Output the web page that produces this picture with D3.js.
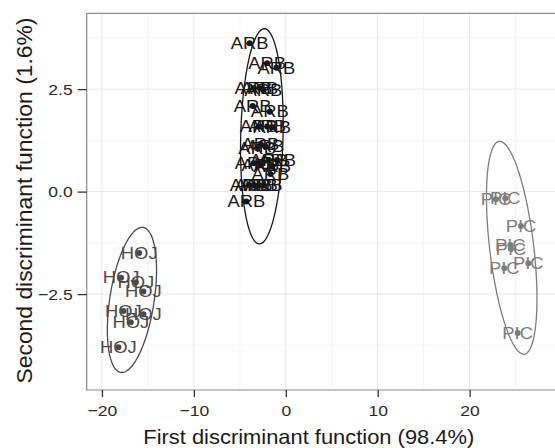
<!DOCTYPE html>
<html>
<head>
<meta charset="utf-8">
<script src="https://cdn.jsdelivr.net/npm/d3@7"></script>
<style>
  html, body { margin: 0; padding: 0; background: #fff; }
  svg { display: block; font-family: "Liberation Sans", Arial, Helvetica, sans-serif; }
</style>
</head>
<body>
<svg id="chart" width="555" height="448"></svg>
<script>
// ---- data ----
const groups = ["ARB", "HOJ", "PIC"];
const groupColors = ["#161616", "#4a4a4a", "#7d7d7d"];

const arbX = [-3.93, -2.03, -1.01, -3.52, -2.87, -2.43, -3.60, -1.74, -2.94, -2.03, -1.48, -2.76, -2.21, -3.12, -3.49, -2.76, -1.85, -0.94, -1.48, -1.67, -4.03, -3.49, -2.94, -2.40, -4.29];
const arbY = [3.62, 3.13, 3.02, 2.53, 2.53, 2.48, 2.09, 1.95, 1.59, 1.59, 1.57, 1.16, 1.10, 1.06, 0.69, 0.65, 0.77, 0.77, 0.61, 0.43, 0.16, 0.16, 0.16, 0.16, -0.24];

const hojX = [-15.95, -17.92, -16.31, -15.49, -17.67, -15.49, -16.86, -18.21];
const hojY = [-1.50, -2.10, -2.21, -2.44, -2.91, -2.99, -3.19, -3.80];

const picX = [22.87, 23.88, 25.59, 24.43, 24.50, 23.77, 26.39, 25.23];
const picY = [-0.185, -0.16, -0.84, -1.30, -1.40, -1.87, -1.75, -3.45];

const xTicks = [-20, -10, 0, 10, 20];
const xMinor = [-15, -5, 5, 15, 25];
const yTicks = [-2.5, 0.0, 2.5];
const yMinor = [-3.75, -1.25, 1.25, 3.75];
const xDomain = [-21.66, 29.4];
const yDomain = [-4.84, 4.35];
const ellipseLevel = 0.95;

const xTitle = "First discriminant function (98.4%)";
const yTitle = "Second discriminant function (1.6%)";

// ---- layout ----
const svg = d3.select("#chart");
const panel = { left: 86.7, top: 13.3, right: 556, bottom: 390 };
const STRETCH = 1.13; // horizontal stretch of the reference's type

function stretch(sel, k) {
  sel.each(function () {
    const w = this.getComputedTextLength();
    d3.select(this).attr("textLength", w * k).attr("lengthAdjust", "spacingAndGlyphs");
  });
}

const x = d3.scaleLinear().domain(xDomain).range([panel.left, panel.right]);
const y = d3.scaleLinear().domain(yDomain).range([panel.bottom, panel.top]);

const defs = svg.append("defs");
defs.append("clipPath").attr("id", "clip").append("rect")
  .attr("x", panel.left).attr("y", panel.top)
  .attr("width", panel.right - panel.left).attr("height", panel.bottom - panel.top);

// grid
const grid = svg.append("g");
grid.selectAll(".xmin").data(xMinor).join("line")
  .attr("x1", d => x(d)).attr("x2", d => x(d)).attr("y1", panel.top).attr("y2", panel.bottom)
  .attr("stroke", "#f3f3f3").attr("stroke-width", 0.8);
grid.selectAll(".ymin").data(yMinor).join("line")
  .attr("y1", d => y(d)).attr("y2", d => y(d)).attr("x1", panel.left).attr("x2", panel.right)
  .attr("stroke", "#f3f3f3").attr("stroke-width", 0.8);
grid.selectAll(".xmaj").data(xTicks).join("line")
  .attr("x1", d => x(d)).attr("x2", d => x(d)).attr("y1", panel.top).attr("y2", panel.bottom)
  .attr("stroke", "#e8e8e8").attr("stroke-width", 1);
grid.selectAll(".ymaj").data(yTicks).join("line")
  .attr("y1", d => y(d)).attr("y2", d => y(d)).attr("x1", panel.left).attr("x2", panel.right)
  .attr("stroke", "#e8e8e8").attr("stroke-width", 1);

// ---- ellipses (computed from the data: normal, chi-square radius) ----
function ellipsePath(xs, ys) {
  const n = xs.length;
  const mx = d3.mean(xs), my = d3.mean(ys);
  let sxx = 0, syy = 0, sxy = 0;
  for (let i = 0; i < n; i++) {
    sxx += (xs[i] - mx) ** 2; syy += (ys[i] - my) ** 2; sxy += (xs[i] - mx) * (ys[i] - my);
  }
  sxx /= (n - 1); syy /= (n - 1); sxy /= (n - 1);
  const r = Math.sqrt(-2 * Math.log(1 - ellipseLevel)); // sqrt(qchisq(level, 2))
  const a = Math.sqrt(sxx), b = sxy / a, c = Math.sqrt(syy - b * b);
  const pts = d3.range(0, 121).map(i => {
    const t = 2 * Math.PI * i / 120;
    const u = Math.cos(t), v = Math.sin(t);
    return [mx + r * (u * a), my + r * (u * b + v * c)];
  });
  return d3.line().x(d => x(d[0])).y(d => y(d[1]))(pts);
}

const datasets = [[arbX, arbY], [hojX, hojY], [picX, picY]];
const plot = svg.append("g").attr("clip-path", "url(#clip)");

datasets.forEach(([xs, ys], gi) => {
  plot.append("path").attr("d", ellipsePath(xs, ys))
    .attr("fill", "none").attr("stroke", groupColors[gi]).attr("stroke-width", 1.3);
});

datasets.forEach(([xs, ys], gi) => {
  const g = plot.append("g");
  const pts = xs.map((v, i) => [v, ys[i]]);
  g.selectAll("text").data(pts).join("text")
    .attr("x", d => x(d[0])).attr("y", d => y(d[1]))
    .attr("text-anchor", "middle").attr("dy", "0.36em")
    .attr("font-size", 16).attr("fill", groupColors[gi])
    .text(groups[gi])
    .call(stretch, 1.15);
  g.selectAll("circle").data(pts).join("circle")
    .attr("cx", d => x(d[0])).attr("cy", d => y(d[1])).attr("r", 3)
    .attr("fill", groupColors[gi]);
});

// panel border (top, left, bottom)
svg.append("path")
  .attr("d", `M${panel.right},${panel.top}H${panel.left}V${panel.bottom}H${panel.right}`)
  .attr("fill", "none").attr("stroke", "#8a8a8a").attr("stroke-width", 1.2);

// axes
const xAxis = d3.axisBottom(x).tickValues(xTicks).tickSize(7).tickPadding(8)
  .tickFormat(d => d3.format("d")(d).replace("-", "\u2212"));
const gx = svg.append("g").attr("transform", `translate(0,${panel.bottom})`).call(xAxis);
gx.select(".domain").remove();
gx.selectAll("line").attr("stroke", "#333").attr("stroke-width", 1.3);
gx.selectAll("text").attr("font-size", 15.5).attr("fill", "#2a2a2a")
  .attr("font-family", "Liberation Sans, Arial, sans-serif").call(stretch, STRETCH);

const yAxis = d3.axisLeft(y).tickValues(yTicks).tickSize(9).tickPadding(5)
  .tickFormat(d => d3.format(".1f")(d).replace("-", "\u2212"));
const gy = svg.append("g").attr("transform", `translate(${panel.left},0)`).call(yAxis);
gy.select(".domain").remove();
gy.selectAll("line").attr("stroke", "#333").attr("stroke-width", 1.3);
gy.selectAll("text").attr("font-size", 15.5).attr("fill", "#2a2a2a")
  .attr("font-family", "Liberation Sans, Arial, sans-serif").call(stretch, STRETCH);

// titles
svg.append("text").attr("x", 308.8).attr("y", 443.5)
  .attr("text-anchor", "middle").attr("font-size", 20.6).attr("fill", "#1a1a1a")
  .attr("textLength", 331).attr("lengthAdjust", "spacingAndGlyphs")
  .text(xTitle);
svg.append("text")
  .attr("transform", `translate(31.5,200.5) rotate(-90)`)
  .attr("text-anchor", "middle").attr("font-size", 22.5).attr("fill", "#1a1a1a")
  .attr("textLength", 366).attr("lengthAdjust", "spacingAndGlyphs")
  .text(yTitle);
</script>
</body>
</html>
